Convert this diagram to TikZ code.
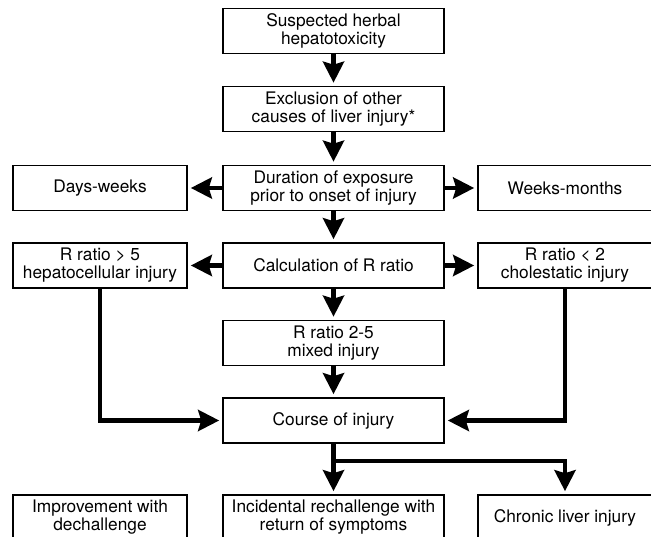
\documentclass[tikz,border=0pt]{standalone}
\usepackage{fontspec}
\setmainfont{TeX Gyre Heros}
\usetikzlibrary{arrows.meta}
\begin{document}
\begin{tikzpicture}[x=1pt,y=-1pt,
  box/.style={draw, line width=1.6pt, align=center, inner sep=0pt, font=\fontsize{17.3}{18}\selectfont},
  cbox/.style={box, minimum width=221pt, minimum height=45pt},
  sbox/.style={box, minimum width=174pt, minimum height=45pt},
  conn/.style={line width=4.6pt, -{Stealth[length=21pt,width=21pt,inset=3pt]}, shorten >=3pt}
]
\useasboundingbox (0,0) rectangle (651,537);
\clip (0,0) rectangle (651,537);
\node[cbox] (sus) at (333.5,31) {Suspected herbal\\hepatotoxicity};
\node[cbox] (exc) at (333.5,109) {Exclusion of other\\causes of liver injury*};
\node[cbox] (dur) at (333.5,188) {Duration of exposure\\prior to onset of injury};
\node[sbox] (days) at (100,188) {Days-weeks};
\node[sbox] (wm) at (565,188) {Weeks-months};
\node[cbox] (calc) at (333.5,265.5) {Calculation of R ratio};
\node[sbox] (hep) at (100,265.5) {R ratio > 5\\hepatocellular injury};
\node[sbox] (chol) at (565,265.5) {R ratio < 2\\cholestatic injury};
\node[cbox] (mix) at (333.5,343) {R ratio 2-5\\mixed injury};
\node[cbox] (course) at (333.5,420.5) {Course of injury};
\node[sbox] (imp) at (100,517.5) {Improvement with\\dechallenge};
\node[cbox] (inc) at (333.5,517.5) {Incidental rechallenge with\\return of symptoms};
\node[sbox] (chr) at (565,517.5) {Chronic liver injury};
\coordinate (br) at (333.5,461);
\draw[conn] (sus) -- (exc);
\draw[conn] (exc) -- (dur);
\draw[conn] (dur) -- (days);
\draw[conn] (dur) -- (wm);
\draw[conn] (dur) -- (calc);
\draw[conn] (calc) -- (hep);
\draw[conn] (calc) -- (chol);
\draw[conn] (calc) -- (mix);
\draw[conn] (mix) -- (course);
\draw[conn] (hep.south) |- (course.west);
\draw[conn] (chol.south) |- (course.east);
\draw[conn] (course) -- (inc);
\draw[conn] (course.south) -- (br) -| (chr.north);
\end{tikzpicture}
\end{document}
